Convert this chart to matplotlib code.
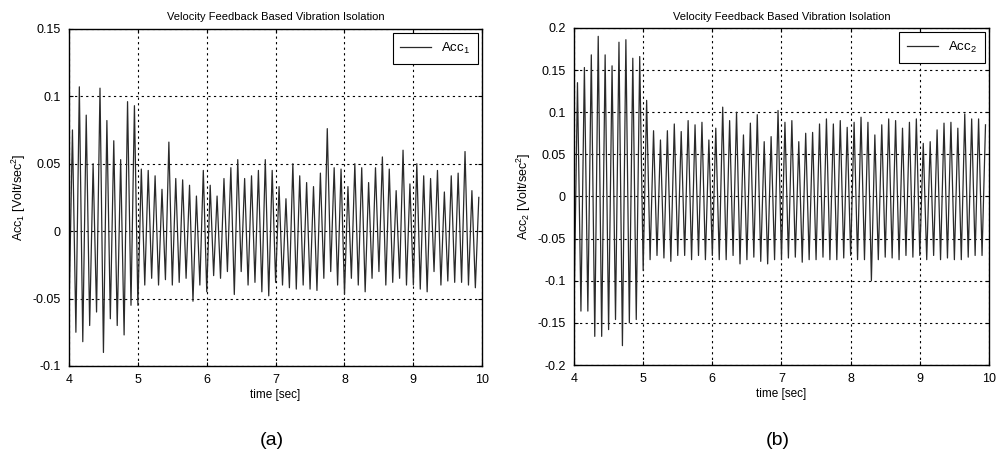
import matplotlib
matplotlib.use("Agg")
import matplotlib.pyplot as plt
import numpy as np

plt.rcParams["font.family"] = ["Liberation Sans", "DejaVu Sans"]
plt.rcParams["mathtext.fontset"] = "custom"
plt.rcParams["mathtext.rm"] = "Liberation Sans"
plt.rcParams["mathtext.it"] = "Liberation Sans"

# peak / trough values per cycle (about 10 cycles per second, 4..10 s)
acc1_peaks = [0.075, 0.107, 0.086, 0.050, 0.106, 0.082, 0.067, 0.053, 0.096, 0.093,
              0.046, 0.045, 0.041, 0.031, 0.066, 0.039, 0.038, 0.034, 0.026, 0.045,
              0.034, 0.026, 0.039, 0.047, 0.053, 0.039, 0.041, 0.045, 0.053, 0.045,
              0.033, 0.024, 0.050, 0.041, 0.036, 0.033, 0.043, 0.076, 0.047, 0.046,
              0.033, 0.050, 0.047, 0.036, 0.047, 0.055, 0.046, 0.030, 0.060, 0.035,
              0.050, 0.041, 0.039, 0.045, 0.029, 0.041, 0.043, 0.059, 0.030, 0.025]
acc1_troughs = [-0.060, -0.075, -0.082, -0.070, -0.060, -0.090, -0.065, -0.070, -0.077, -0.055,
                -0.055, -0.040, -0.035, -0.040, -0.036, -0.040, -0.038, -0.035, -0.052, -0.040,
                -0.045, -0.033, -0.035, -0.030, -0.047, -0.030, -0.040, -0.038, -0.045, -0.048,
                -0.038, -0.040, -0.042, -0.043, -0.040, -0.043, -0.044, -0.035, -0.030, -0.040,
                -0.047, -0.035, -0.040, -0.045, -0.035, -0.030, -0.040, -0.038, -0.035, -0.040,
                -0.040, -0.043, -0.045, -0.030, -0.040, -0.037, -0.038, -0.038, -0.040, -0.042]

acc2_peaks = [0.135, 0.153, 0.168, 0.190, 0.168, 0.155, 0.183, 0.186, 0.164, 0.166,
              0.114, 0.078, 0.067, 0.078, 0.086, 0.077, 0.090, 0.085, 0.088, 0.067,
              0.081, 0.106, 0.090, 0.100, 0.073, 0.087, 0.097, 0.065, 0.071, 0.102,
              0.088, 0.090, 0.065, 0.075, 0.076, 0.086, 0.092, 0.086, 0.090, 0.082,
              0.088, 0.094, 0.088, 0.073, 0.085, 0.092, 0.090, 0.081, 0.088, 0.092,
              0.063, 0.065, 0.079, 0.087, 0.088, 0.081, 0.098, 0.092, 0.092, 0.085]
acc2_troughs = [-0.136, -0.136, -0.136, -0.166, -0.166, -0.158, -0.146, -0.177, -0.150, -0.146,
                -0.088, -0.075, -0.070, -0.073, -0.077, -0.070, -0.070, -0.075, -0.070, -0.075,
                -0.070, -0.075, -0.075, -0.070, -0.080, -0.075, -0.072, -0.077, -0.080, -0.075,
                -0.075, -0.073, -0.072, -0.078, -0.075, -0.075, -0.072, -0.075, -0.075, -0.073,
                -0.070, -0.075, -0.075, -0.100, -0.075, -0.072, -0.073, -0.075, -0.070, -0.072,
                -0.070, -0.075, -0.070, -0.075, -0.073, -0.075, -0.075, -0.072, -0.070, -0.070]

title = "Velocity Feedback Based Vibration Isolation"
xticks = [4, 5, 6, 7, 8, 9, 10]
yticks1 = [-0.1, -0.05, 0, 0.05, 0.1, 0.15]
ylabels1 = ["-0.1", "-0.05", "0", "0.05", "0.1", "0.15"]
yticks2 = [-0.2, -0.15, -0.1, -0.05, 0, 0.05, 0.1, 0.15, 0.2]
ylabels2 = ["-0.2", "-0.15", "-0.1", "-0.05", "0", "0.05", "0.1", "0.15", "0.2"]


def zigzag(troughs, peaks):
    n = len(peaks)
    t = np.empty(2 * n)
    y = np.empty(2 * n)
    t[0::2] = 4.0 + 0.1 * np.arange(n)
    t[1::2] = 4.05 + 0.1 * np.arange(n)
    y[0::2] = troughs
    y[1::2] = peaks
    return t, y


fig = plt.figure(figsize=(10.03, 4.65), dpi=100)
ax1 = fig.add_axes([0.0688, 0.213, 0.412, 0.725])
ax2 = fig.add_axes([0.5723, 0.215, 0.4137, 0.725])


def style(ax, yticks, ylabels, ylim, name, leg):
    ax.set_xlim(4, 10)
    ax.set_ylim(*ylim)
    ax.set_xticks(xticks)
    ax.set_yticks(yticks)
    ax.set_yticklabels(ylabels)
    ax.tick_params(direction="in", labelsize=9, length=3, pad=6, top=True, right=True)
    ax.grid(True, color="black", linestyle=(0, (2, 3)), linewidth=0.8)
    ax.set_title(title, fontsize=8, pad=6)
    ax.set_xlabel("time [sec]", fontsize=8.5, labelpad=2)
    ax.set_ylabel(name + " [Volt/sec$^2$]", fontsize=9, labelpad=3)
    for s in ax.spines.values():
        s.set_linewidth(1.0)
    lg = ax.legend([leg], loc="upper right", fontsize=9.5, fancybox=False,
                   framealpha=1, edgecolor="black", handlelength=2.3,
                   borderaxespad=0.3, borderpad=0.6)
    lg.get_frame().set_linewidth(0.8)


t1, y1 = zigzag(acc1_troughs, acc1_peaks)
ax1.plot(t1, y1, color="#2a2a2a", linewidth=0.9, label="Acc$_1$")
style(ax1, yticks1, ylabels1, (-0.1, 0.15), "Acc$_1$", "Acc$_1$")

t2, y2 = zigzag(acc2_troughs, acc2_peaks)
ax2.plot(t2, y2, color="#2a2a2a", linewidth=0.9, label="Acc$_2$")
style(ax2, yticks2, ylabels2, (-0.2, 0.2), "Acc$_2$", "Acc$_2$")

fig.text(272 / 1003, 1 - 440 / 465, "(a)", fontsize=14, ha="center", va="center")
fig.text(778 / 1003, 1 - 440 / 465, "(b)", fontsize=14, ha="center", va="center")

fig.savefig("out.png", dpi=100)
